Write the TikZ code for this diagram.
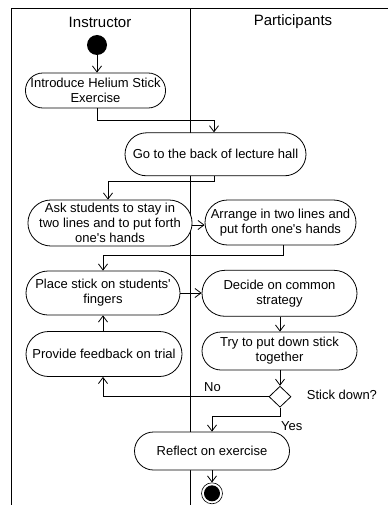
\documentclass[tikz,border=0pt]{standalone}
\usepackage{fontspec}
\setmainfont{Liberation Sans}
\usetikzlibrary{arrows.meta,shapes.misc,shapes.geometric,calc}
\begin{document}
\begin{tikzpicture}[x=1pt,y=-1pt,
  act/.style={rounded rectangle,draw,line width=0.8pt,fill=white,inner sep=0pt,align=center,
    font=\fontsize{13}{15}\selectfont},
  arr/.style={line width=0.8pt,-{Straight Barb[length=6pt,width=9pt,line width=0.8pt]}},
  lane/.style={line width=1pt},
  lbl/.style={font=\fontsize{13}{15}\selectfont,inner sep=0pt},
  hdr/.style={font=\fontsize{15}{17}\selectfont,inner sep=0pt}]
\useasboundingbox (0,0) rectangle (388,505);
% swimlanes
\draw[lane] (11,505) -- (11,9) -- (388,9);
\draw[lane] (190,9) -- (190,505);
\node[hdr] (h1) at (100,22) {Instructor};
\node[hdr] (h2) at (293,22) {Participants};
% start
\node[circle,fill=black,minimum size=20pt,inner sep=0pt] (start) at (97,45) {};
% activities
\node[act,minimum width=137pt,minimum height=35pt] (n1) at (95.5,90.5) {Introduce Helium Stick\\Exercise};
\node[act,minimum width=181pt,minimum height=43pt] (n2) at (215.5,154.3) {Go to the back of lecture hall};
\node[act,minimum width=154pt,minimum height=46pt] (n3) at (110,223) {Ask students to stay in\\two lines and to put forth\\one\textquotesingle s hands};
\node[act,minimum width=151pt,minimum height=45pt] (n4) at (280.5,222.5) {Arrange in two lines and\\put forth one\textquotesingle s hands};
\node[act,minimum width=154pt,minimum height=44pt] (n5) at (103,293) {Place stick on students\textquotesingle\\fingers};
\node[act,minimum width=155pt,minimum height=46pt] (n6) at (279.5,293.3) {Decide on common\\strategy};
\node[act,minimum width=155pt,minimum height=38pt] (n7) at (279.5,351) {Try to put down stick\\together};
\node[act,minimum width=156pt,minimum height=45pt] (n8) at (104,354) {Provide feedback on trial};
\node[diamond,draw,line width=0.8pt,fill=white,minimum width=22pt,minimum height=21pt,inner sep=0pt] (d) at (280,396.7) {};
\node[act,minimum width=155pt,minimum height=38pt] (n9) at (212,451) {Reflect on exercise};
% end
\node[circle,draw,line width=0.6pt,minimum size=21pt,inner sep=0pt] (end) at (212,493.3) {};
\node[circle,fill=black,minimum size=16pt,inner sep=0pt] (endin) at (end.center) {};
% junction points
\coordinate (j1) at (214,120);
\coordinate (j2) at (108,181.7);
\coordinate (j3) at (283,255);
\coordinate (j4) at (212,416);
% connectors
\draw[arr] (start) -- (start |- n1.north);
\draw[arr] (n1.south -| start) |- (j1) -- (j1 |- n2.north);
\draw[arr] (n2.south -| j1) |- (j2) -- (j2 |- n3.north);
\draw[arr] ($(n3.east)+(0,2)$) -- ($(n3.east -| n4.west)+(0,2)$);
\draw[arr] (n4.south -| j3) -- (j3) -| (n5.north);
\draw[arr] (n5.east) -- (n5.east -| n6.west);
\draw[arr] (n6.south -| d) -- (d |- n7.north);
\draw[arr] (n8.north -| n5.south) -- (n5.south);
\draw[arr] (n7.south -| d) -- (d.north);
\draw[arr] (d.west) -| (n8.south -| n5.south);
\draw[arr] (d.south) |- (j4) -- (n9.north);
\draw[arr] (n9.south) -- (end.north);
% labels
\node[lbl] (no) at (212.5,386.7) {No};
\node[lbl,anchor=west] (sd) at (306.7,395) {Stick down?};
\node[lbl,anchor=west] (yes) at (281,425.7) {Yes};
\end{tikzpicture}
\end{document}
